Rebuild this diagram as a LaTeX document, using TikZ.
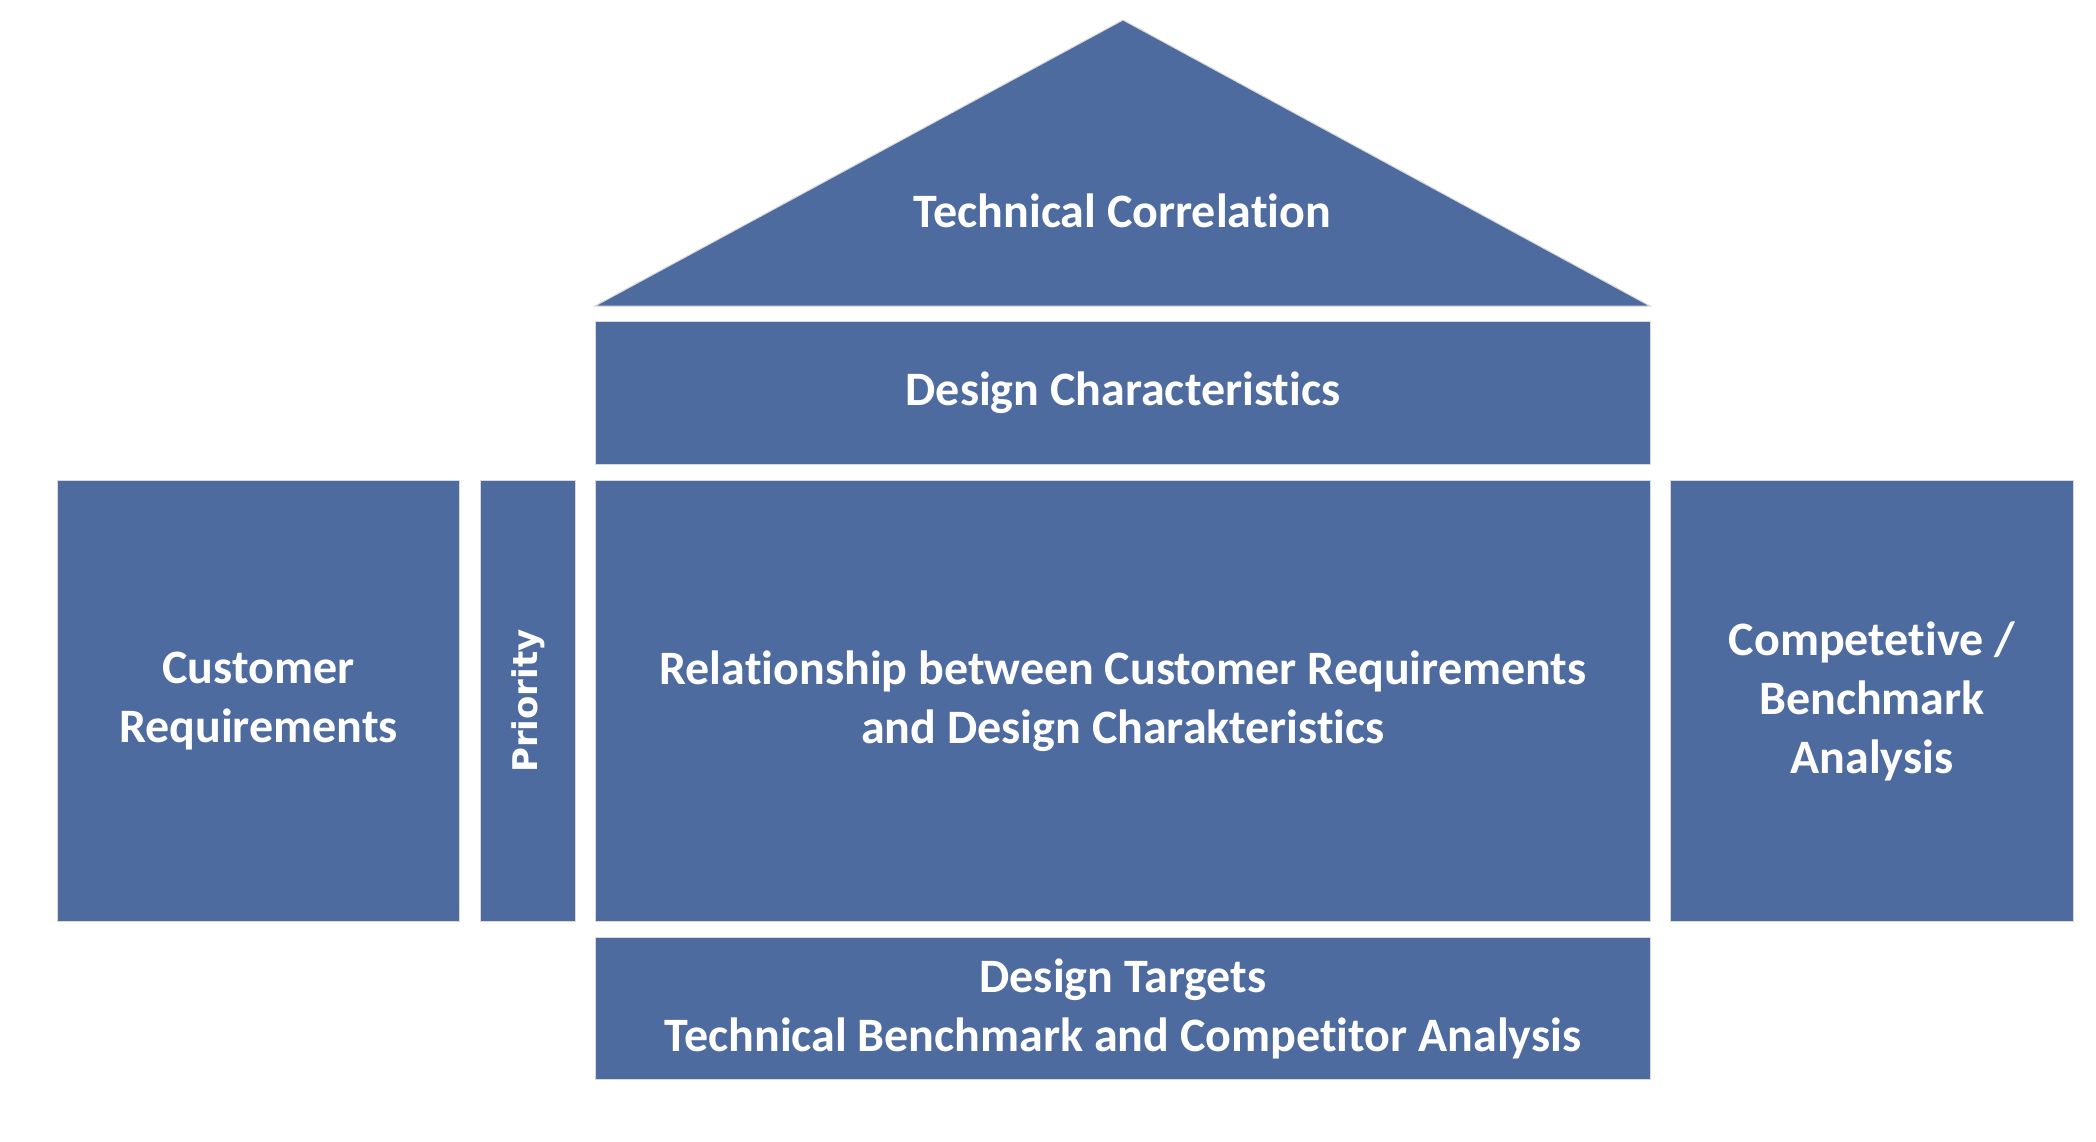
\documentclass[tikz,border=0pt]{standalone}
\usepackage{fontspec}
\setmainfont[Ligatures=NoCommon]{Carlito}
\newfontfamily\prifont{DejaVu Sans}
\definecolor{qfdblue}{RGB}{78,107,160}
\begin{document}
\begin{tikzpicture}[x=1pt,y=-1pt,
  part/.style={fill=qfdblue, draw=black!15, line width=1pt, inner sep=0pt, anchor=north west,
    text=white, align=center, font=\fontsize{48}{59}\selectfont\bfseries},
  roofpart/.style={fill=qfdblue, draw=black!15, line width=1pt, line join=miter}]
  \useasboundingbox (0,0) rectangle (2096,1142);
  % roof
  \filldraw[roofpart] (595,306) -- (1123,20) -- (1650,306) -- cycle;
  \node[text=white, font=\fontsize{48}{59}\selectfont\bfseries] (roof) at (1122.5,211) {Technical Correlation};
  % rooms
  \node[part, minimum width=1055pt, minimum height=143pt] (dc) at (595,321) {Design Characteristics};
  \node[part, minimum width=402pt, minimum height=441pt] (cr) at (57,480) {Customer\\Requirements};
  \node[part, minimum width=95pt, minimum height=441pt] (pri) at (480,480) {};
  \node[rotate=90, text=white, font=\fontsize{34}{40}\selectfont\prifont\bfseries] (prilbl) at (pri.center) {Priority};
  \node[part, minimum width=1055pt, minimum height=441pt] (rel) at (595,480)
    {Relationship between Customer Requirements\\and Design Charakteristics};
  \node[part, minimum width=403pt, minimum height=441pt] (comp) at (1670,480)
    {Competetive /\\Benchmark\\Analysis};
  \node[part, minimum width=1055pt, minimum height=142pt] (dt) at (595,937)
    {Design Targets\\Technical Benchmark and Competitor Analysis};
\end{tikzpicture}
\end{document}
